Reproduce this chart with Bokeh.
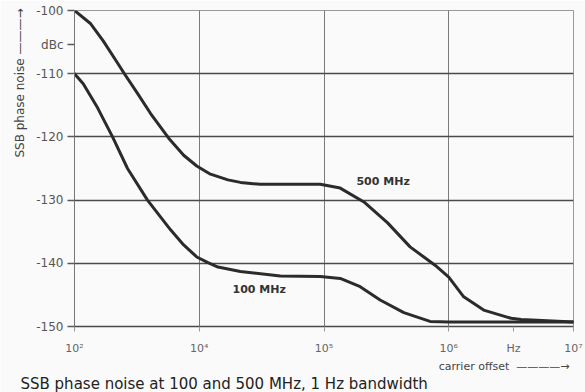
from bokeh.plotting import figure
from bokeh.models import FixedTicker, Label, Title
from bokeh.embed import file_html
from bokeh.resources import INLINE

# ---- data (offset given as log10 of Hz) ----
tick_exps = [2, 4, 5, 6, 7]
tick_labels = ["10\u00b2", "10\u2074", "10\u2075", "10\u2076", "10\u2077"]
y_ticks = [-150, -140, -130, -120, -110, -100]

exp_500 = [2.00, 2.26, 2.46, 2.69, 2.80, 3.01, 3.22, 3.51, 3.75, 3.96, 4.09, 4.23,
           4.33, 4.49, 4.81, 4.97, 5.13, 5.32, 5.51, 5.69, 5.89, 6.00, 6.12, 6.28, 6.50,
           6.58, 7.00]
dbc_500 = [-100.0, -102.1, -104.8, -108.3, -110.0, -113.1, -116.3, -120.2, -122.9, -124.6,
           -125.9, -126.8, -127.2, -127.5, -127.5, -127.5, -128.1, -130.3, -133.6,
           -137.4, -140.3, -142.2, -145.3, -147.4, -148.7, -148.9, -149.3]

exp_100 = [2.00, 2.14, 2.37, 2.61, 2.85, 3.17, 3.54, 3.75, 3.96, 4.07, 4.15, 4.33, 4.65,
           4.97, 5.13, 5.29, 5.45, 5.64, 5.85, 6.00, 7.00]
dbc_100 = [-110.0, -111.6, -115.4, -120.0, -125.0, -130.0, -134.7, -137.1, -139.0, -139.9,
           -140.6, -141.3, -142.0, -142.1, -142.4, -143.7, -145.8, -147.8, -149.2, -149.3,
           -149.3]


def axis_pos(e):
    # the printed axis puts 10^2 ... 10^4 into one division
    return (e - 2) / 2 if e <= 4 else e - 3


FONT = "DejaVu Sans"
HZ_POS = 3.52      # where the unit "Hz" sits on the offset axis
DBC_POS = -105.4   # where the unit "dBc" sits on the level axis

p = figure(width=585, height=392, x_range=(0, 4), y_range=(-150, -100),
           output_backend="svg", toolbar_location=None,
           min_border_left=74, min_border_right=12, min_border_top=10, min_border_bottom=65)
p.background_fill_color = "#fafafa"
p.border_fill_color = "#fafafa"
p.outline_line_color = "#999999"
p.outline_line_width = 1

# grids
p.xgrid.ticker = FixedTicker(ticks=[axis_pos(e) for e in tick_exps[1:]])
p.xgrid.grid_line_color = "#7a7a7a"
p.xgrid.grid_line_width = 1
p.ygrid.ticker = FixedTicker(ticks=y_ticks)
p.ygrid.grid_line_color = "#4a4a4a"
p.ygrid.grid_line_width = 1.6

# y axis
ya = p.yaxis[0]
ya.ticker = FixedTicker(ticks=y_ticks + [DBC_POS])
ov = {t: "-%d" % abs(t) for t in y_ticks}
ov[DBC_POS] = "dBc"
ya.major_label_overrides = ov
ya.axis_line_color = "#777777"
ya.major_tick_out = 7
ya.major_tick_in = 0
ya.major_tick_line_color = "#5a5a5a"
ya.major_tick_line_width = 1.4
ya.minor_tick_line_color = None
ya.major_label_standoff = 4
ya.major_label_text_font = FONT
ya.major_label_text_font_size = "12px"
ya.major_label_text_color = "#555555"

# x axis
xa = p.xaxis[0]
xa.ticker = FixedTicker(ticks=[axis_pos(e) for e in tick_exps] + [HZ_POS])
xov = {axis_pos(e): lab for e, lab in zip(tick_exps, tick_labels)}
xov[HZ_POS] = "Hz"
xa.major_label_overrides = xov
xa.axis_line_color = "#4a4a4a"
xa.axis_line_width = 1.6
xa.major_tick_out = 5
xa.major_tick_in = 0
xa.major_tick_line_color = "#999999"
xa.minor_tick_line_color = None
xa.major_label_standoff = 10
xa.major_label_text_font = FONT
xa.major_label_text_font_size = "11px"
xa.major_label_text_color = "#666666"

# curves
p.line([axis_pos(e) for e in exp_500], dbc_500, line_width=3, line_color="#2b2b2b",
       line_join="round", line_cap="round")
p.line([axis_pos(e) for e in exp_100], dbc_100, line_width=3, line_color="#2b2b2b",
       line_join="round", line_cap="round")

# curve labels (inside the plot frame)
for text, xs, yv in [("500 MHz", 2.26, -127.0), ("100 MHz", 1.267, -144.2)]:
    p.add_layout(Label(x=xs, y=yv, text=text, text_font=FONT, text_font_size="11px",
                       text_color="#333333", text_baseline="middle",
                       text_font_style="bold"))

# level-axis title with its arrow
p.add_layout(Title(text="SSB phase noise \u2014\u2014\u2014\u2192", align="right", offset=-2,
                   standoff=13, text_font=FONT, text_font_size="12px",
                   text_font_style="normal", text_color="#444444"), "left")

# offset-axis title with its arrow, then the caption
p.add_layout(Title(text="carrier offset\u00a0\u00a0\u2014\u2014\u2014\u2014\u2192",
                   align="right", offset=4, standoff=0, text_font=FONT,
                   text_font_size="11px", text_font_style="normal",
                   text_color="#444444"), "below")
p.add_layout(Title(text="SSB phase noise at 100 and 500 MHz, 1 Hz bandwidth",
                   align="left", offset=-54, standoff=0, text_font=FONT,
                   text_font_size="15px", text_font_style="normal",
                   text_color="#222222"), "below")

open("out.html", "w").write(file_html(p, INLINE))
